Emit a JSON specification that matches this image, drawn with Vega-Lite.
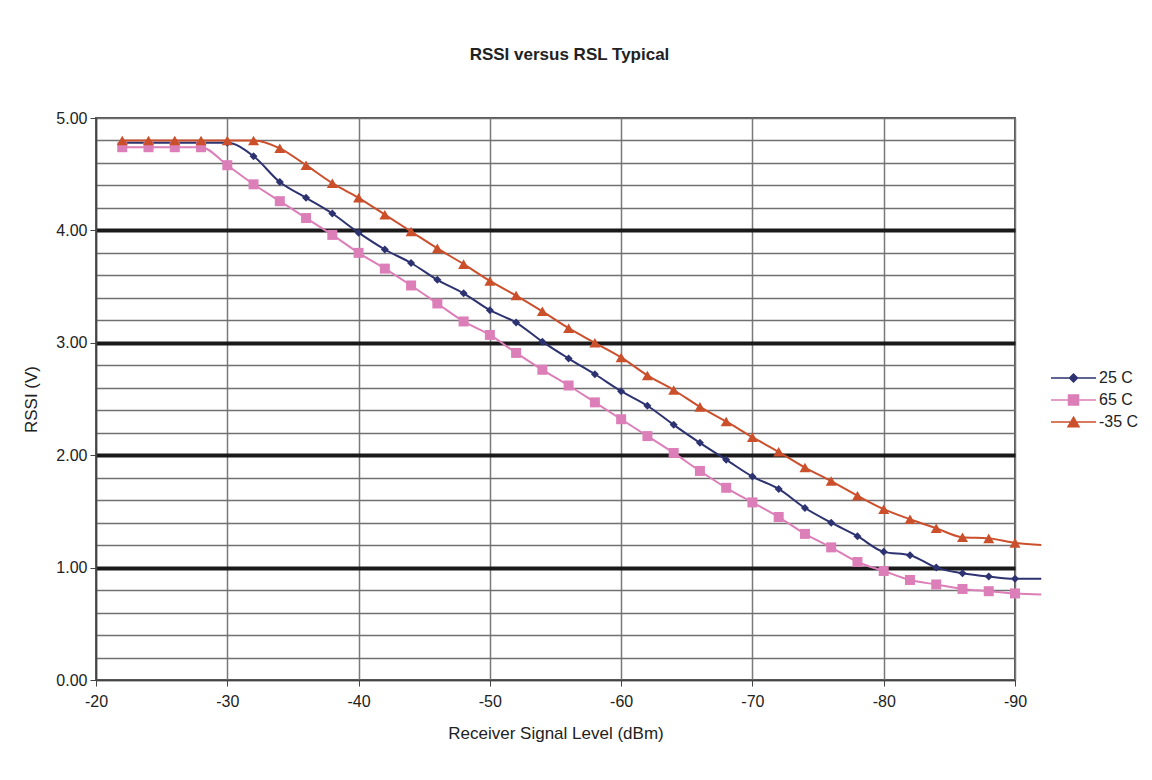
{
  "$schema": "https://vega.github.io/schema/vega-lite/v6.json",
  "width": 919,
  "height": 562,
  "autosize": "none",
  "padding": {"left": 96, "top": 118, "right": 137, "bottom": 100},
  "background": "white",
  "title": {
    "text": "RSSI versus RSL Typical",
    "font": "Liberation Sans",
    "fontSize": 17,
    "fontWeight": "bold",
    "color": "#222222",
    "anchor": "middle",
    "dx": 14,
    "offset": 46
  },
  "data": {
    "values": [
      {"rsl": -22, "series": "25 C", "v": 4.78},
      {"rsl": -24, "series": "25 C", "v": 4.78},
      {"rsl": -26, "series": "25 C", "v": 4.78},
      {"rsl": -28, "series": "25 C", "v": 4.78},
      {"rsl": -30, "series": "25 C", "v": 4.78},
      {"rsl": -32, "series": "25 C", "v": 4.66},
      {"rsl": -34, "series": "25 C", "v": 4.43},
      {"rsl": -36, "series": "25 C", "v": 4.29},
      {"rsl": -38, "series": "25 C", "v": 4.15},
      {"rsl": -40, "series": "25 C", "v": 3.98},
      {"rsl": -42, "series": "25 C", "v": 3.83},
      {"rsl": -44, "series": "25 C", "v": 3.71},
      {"rsl": -46, "series": "25 C", "v": 3.56},
      {"rsl": -48, "series": "25 C", "v": 3.44},
      {"rsl": -50, "series": "25 C", "v": 3.29},
      {"rsl": -52, "series": "25 C", "v": 3.18},
      {"rsl": -54, "series": "25 C", "v": 3.01},
      {"rsl": -56, "series": "25 C", "v": 2.86},
      {"rsl": -58, "series": "25 C", "v": 2.72},
      {"rsl": -60, "series": "25 C", "v": 2.57},
      {"rsl": -62, "series": "25 C", "v": 2.44},
      {"rsl": -64, "series": "25 C", "v": 2.27},
      {"rsl": -66, "series": "25 C", "v": 2.11},
      {"rsl": -68, "series": "25 C", "v": 1.96},
      {"rsl": -70, "series": "25 C", "v": 1.81},
      {"rsl": -72, "series": "25 C", "v": 1.70},
      {"rsl": -74, "series": "25 C", "v": 1.53},
      {"rsl": -76, "series": "25 C", "v": 1.40},
      {"rsl": -78, "series": "25 C", "v": 1.28},
      {"rsl": -80, "series": "25 C", "v": 1.14},
      {"rsl": -82, "series": "25 C", "v": 1.11},
      {"rsl": -84, "series": "25 C", "v": 1.00},
      {"rsl": -86, "series": "25 C", "v": 0.95},
      {"rsl": -88, "series": "25 C", "v": 0.92},
      {"rsl": -90, "series": "25 C", "v": 0.90},
      {"rsl": -92, "series": "25 C", "v": 0.90},
      {"rsl": -22, "series": "65 C", "v": 4.74},
      {"rsl": -24, "series": "65 C", "v": 4.74},
      {"rsl": -26, "series": "65 C", "v": 4.74},
      {"rsl": -28, "series": "65 C", "v": 4.74},
      {"rsl": -30, "series": "65 C", "v": 4.58},
      {"rsl": -32, "series": "65 C", "v": 4.41},
      {"rsl": -34, "series": "65 C", "v": 4.26},
      {"rsl": -36, "series": "65 C", "v": 4.11},
      {"rsl": -38, "series": "65 C", "v": 3.96},
      {"rsl": -40, "series": "65 C", "v": 3.80},
      {"rsl": -42, "series": "65 C", "v": 3.66},
      {"rsl": -44, "series": "65 C", "v": 3.51},
      {"rsl": -46, "series": "65 C", "v": 3.35},
      {"rsl": -48, "series": "65 C", "v": 3.19},
      {"rsl": -50, "series": "65 C", "v": 3.07},
      {"rsl": -52, "series": "65 C", "v": 2.91},
      {"rsl": -54, "series": "65 C", "v": 2.76},
      {"rsl": -56, "series": "65 C", "v": 2.62},
      {"rsl": -58, "series": "65 C", "v": 2.47},
      {"rsl": -60, "series": "65 C", "v": 2.32},
      {"rsl": -62, "series": "65 C", "v": 2.17},
      {"rsl": -64, "series": "65 C", "v": 2.02},
      {"rsl": -66, "series": "65 C", "v": 1.86},
      {"rsl": -68, "series": "65 C", "v": 1.71},
      {"rsl": -70, "series": "65 C", "v": 1.58},
      {"rsl": -72, "series": "65 C", "v": 1.45},
      {"rsl": -74, "series": "65 C", "v": 1.30},
      {"rsl": -76, "series": "65 C", "v": 1.18},
      {"rsl": -78, "series": "65 C", "v": 1.05},
      {"rsl": -80, "series": "65 C", "v": 0.97},
      {"rsl": -82, "series": "65 C", "v": 0.89},
      {"rsl": -84, "series": "65 C", "v": 0.85},
      {"rsl": -86, "series": "65 C", "v": 0.81},
      {"rsl": -88, "series": "65 C", "v": 0.79},
      {"rsl": -90, "series": "65 C", "v": 0.77},
      {"rsl": -92, "series": "65 C", "v": 0.76},
      {"rsl": -22, "series": "-35 C", "v": 4.80},
      {"rsl": -24, "series": "-35 C", "v": 4.80},
      {"rsl": -26, "series": "-35 C", "v": 4.80},
      {"rsl": -28, "series": "-35 C", "v": 4.80},
      {"rsl": -30, "series": "-35 C", "v": 4.80},
      {"rsl": -32, "series": "-35 C", "v": 4.80},
      {"rsl": -34, "series": "-35 C", "v": 4.73},
      {"rsl": -36, "series": "-35 C", "v": 4.58},
      {"rsl": -38, "series": "-35 C", "v": 4.42},
      {"rsl": -40, "series": "-35 C", "v": 4.29},
      {"rsl": -42, "series": "-35 C", "v": 4.14},
      {"rsl": -44, "series": "-35 C", "v": 3.99},
      {"rsl": -46, "series": "-35 C", "v": 3.84},
      {"rsl": -48, "series": "-35 C", "v": 3.70},
      {"rsl": -50, "series": "-35 C", "v": 3.55},
      {"rsl": -52, "series": "-35 C", "v": 3.42},
      {"rsl": -54, "series": "-35 C", "v": 3.28},
      {"rsl": -56, "series": "-35 C", "v": 3.13},
      {"rsl": -58, "series": "-35 C", "v": 3.00},
      {"rsl": -60, "series": "-35 C", "v": 2.87},
      {"rsl": -62, "series": "-35 C", "v": 2.71},
      {"rsl": -64, "series": "-35 C", "v": 2.58},
      {"rsl": -66, "series": "-35 C", "v": 2.43},
      {"rsl": -68, "series": "-35 C", "v": 2.30},
      {"rsl": -70, "series": "-35 C", "v": 2.16},
      {"rsl": -72, "series": "-35 C", "v": 2.03},
      {"rsl": -74, "series": "-35 C", "v": 1.89},
      {"rsl": -76, "series": "-35 C", "v": 1.77},
      {"rsl": -78, "series": "-35 C", "v": 1.64},
      {"rsl": -80, "series": "-35 C", "v": 1.52},
      {"rsl": -82, "series": "-35 C", "v": 1.43},
      {"rsl": -84, "series": "-35 C", "v": 1.35},
      {"rsl": -86, "series": "-35 C", "v": 1.27},
      {"rsl": -88, "series": "-35 C", "v": 1.26},
      {"rsl": -90, "series": "-35 C", "v": 1.22},
      {"rsl": -92, "series": "-35 C", "v": 1.20}
    ]
  },
  "encoding": {
    "x": {
      "field": "rsl",
      "type": "quantitative",
      "scale": {"domain": [-20, -90], "nice": false, "zero": false},
      "axis": {
        "values": [-20, -30, -40, -50, -60, -70, -80, -90],
        "labelExpr": "'' + datum.value",
        "labelFlush": false,
        "title": "Receiver Signal Level (dBm)",
        "grid": true,
        "gridColor": "#7a7a7a",
        "gridWidth": 1.5,
        "tickSize": 6,
        "tickColor": "#444444",
        "domainColor": "#444444",
        "domainWidth": 1.5,
        "labelPadding": 7,
        "titlePadding": 16
      }
    },
    "y": {
      "field": "v",
      "type": "quantitative",
      "scale": {"domain": [0, 5], "nice": false, "zero": false},
      "axis": {
        "values": [0, 0.2, 0.4, 0.6, 0.8, 1, 1.2, 1.4, 1.6, 1.8, 2, 2.2, 2.4, 2.6, 2.8, 3, 3.2, 3.4, 3.6, 3.8, 4, 4.2, 4.4, 4.6, 4.8, 5],
        "title": "RSSI (V)",
        "grid": true,
        "gridColor": {"condition": {"test": "abs(datum.value - round(datum.value)) < 0.01 && datum.value > 0.5 && datum.value < 4.5", "value": "#1a1a1a"}, "value": "#707070"},
        "gridWidth": {"condition": {"test": "abs(datum.value - round(datum.value)) < 0.01 && datum.value > 0.5 && datum.value < 4.5", "value": 4}, "value": 1.5},
        "labelExpr": "abs(datum.value - round(datum.value)) < 0.01 ? format(datum.value, '.2f') : ''",
        "labelFlush": false,
        "tickOpacity": {"condition": {"test": "abs(datum.value - round(datum.value)) < 0.01", "value": 1}, "value": 0},
        "tickSize": 6,
        "tickColor": "#444444",
        "domainColor": "#444444",
        "domainWidth": 1.5,
        "labelPadding": 3,
        "titlePadding": 15
      }
    },
    "color": {
      "field": "series",
      "type": "nominal",
      "scale": {"domain": ["25 C", "65 C", "-35 C"], "range": ["#2d3270", "#dc7eb8", "#cc4f2c"]},
      "legend": {
        "title": null,
        "orient": "none",
        "legendX": 954,
        "legendY": 251,
        "symbolSize": 256,
        "symbolStrokeWidth": 1.5,
        "labelOffset": 31,
        "rowPadding": 5,
        "labelFontSize": 16,
        "labelFont": "Liberation Sans",
        "labelColor": "#222222",
        "encode": {
          "symbols": {
            "update": {
              "shape": {"signal": "datum.value === '25 C' ? 'M-1,0H4.625M1.8125,-0.5L2.3125,0L1.8125,0.5L1.3125,0Z' : datum.value === '65 C' ? 'M-1,0H4.625M1.1875,-0.625H2.4375V0.625H1.1875Z' : 'M-1,0H4.625M1.8125,-0.6L2.5,0.6H1.125Z'"},
              "fill": {"signal": "datum.value === '25 C' ? '#2d3270' : datum.value === '65 C' ? '#dc7eb8' : '#cc4f2c'"},
              "stroke": {"signal": "datum.value === '25 C' ? '#2d3270' : datum.value === '65 C' ? '#dc7eb8' : '#cc4f2c'"},
              "opacity": {"value": 1}
            }
          }
        }
      }
    }
  },
  "layer": [
    {
      "mark": {"type": "line", "interpolate": "monotone", "strokeWidth": 2},
      "encoding": {
        "order": {"field": "rsl", "sort": "descending"}
      }
    },
    {
      "transform": [{"filter": "datum.rsl >= -90 && datum.series === '25 C'"}],
      "mark": {"type": "point", "filled": true, "opacity": 1, "shape": "diamond", "size": 64}
    },
    {
      "transform": [{"filter": "datum.rsl >= -90 && datum.series === '65 C'"}],
      "mark": {"type": "point", "filled": true, "opacity": 1, "shape": "square", "size": 100}
    },
    {
      "transform": [{"filter": "datum.rsl >= -90 && datum.series === '-35 C'"}],
      "mark": {"type": "point", "filled": true, "opacity": 1, "shape": "triangle-up", "size": 121}
    }
  ],
  "config": {
    "font": "Liberation Sans",
    "view": {"stroke": "#555555", "strokeWidth": 2},
    "axis": {
      "labelFont": "Liberation Sans",
      "labelFontSize": 16,
      "labelColor": "#222222",
      "titleFont": "Liberation Sans",
      "titleFontSize": 17,
      "titleFontWeight": "normal",
      "titleColor": "#222222"
    }
  }
}
